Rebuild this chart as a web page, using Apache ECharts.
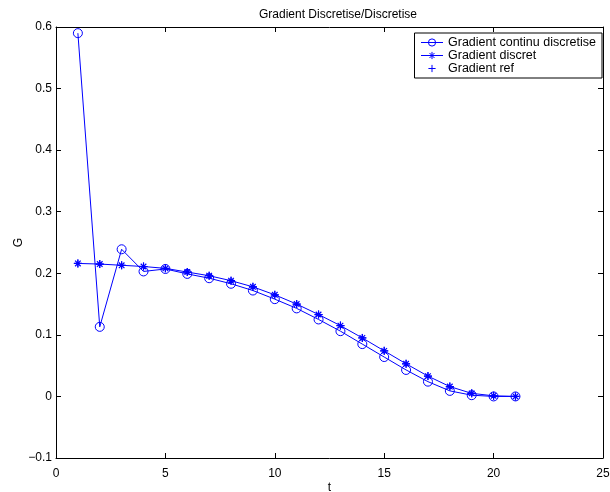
<!DOCTYPE html>
<html>
<head>
<meta charset="utf-8">
<script src="https://cdn.jsdelivr.net/npm/echarts@6/dist/echarts.min.js"></script>
<style>html,body{margin:0;padding:0;background:#fff;}#c{width:610px;height:492px;}</style>
</head>
<body>
<div id="c"></div>
<script>
const t = [1,2,3,4,5,6,7,8,9,10,11,12,13,14,15,16,17,18,19,20,21];
const gContinu = [0.59,0.113,0.239,0.203,0.207,0.199,0.192,0.183,0.172,0.158,0.143,0.125,0.106,0.085,0.064,0.043,0.024,0.009,0.002,0.0,0.0];
const gDiscret = [0.216,0.215,0.213,0.211,0.208,0.202,0.196,0.188,0.178,0.165,0.150,0.133,0.115,0.095,0.074,0.053,0.033,0.016,0.005,0.001,0.0];
const gRef = [0.216,0.215,0.213,0.211,0.208,0.202,0.196,0.188,0.178,0.165,0.150,0.133,0.115,0.095,0.074,0.053,0.033,0.016,0.005,0.001,0.0];
const xTicks = [0,5,10,15,20,25];
const yTicks = [-0.1,0,0.1,0.2,0.3,0.4,0.5,0.6];

const blue = '#0000ff';
const font = 'Liberation Sans, Arial, Helvetica, sans-serif';
const pairs = (ys) => t.map((x,i)=>[x, ys[i]]);
const starPath = 'path://M0,-1L0,1M-1,0L1,0M-0.7,-0.7L0.7,0.7M-0.7,0.7L0.7,-0.7';
const plusPath = 'path://M0,-1L0,1M-1,0L1,0';
const circlePath = 'path://M1,0A1,1,0,1,1,-1,0A1,1,0,1,1,1,0Z';

const chart = echarts.init(document.getElementById('c'), null, {renderer:'canvas'});
const axisCommon = {
  axisLine:{show:true, onZero:false, lineStyle:{color:'#000', width:1}},
  axisTick:{show:true, inside:true, length:5, lineStyle:{color:'#000'}},
  splitLine:{show:false}
};
chart.setOption({
  animation:false,
  backgroundColor:'#fff',
  title:{text:'Gradient Discretise/Discretise', left:333, textAlign:'center', top:4,
    textStyle:{fontFamily:font, fontSize:12, fontWeight:'normal', color:'#000'}},
  grid:{left:56, right:7, top:27, bottom:34, containLabel:false, outerBoundsMode:'none'},
  legend:{
    orient:'vertical', right:8, top:33,
    backgroundColor:'#fff', borderColor:'#000', borderWidth:1, borderRadius:0,
    padding:[3,6,3,6], itemGap:0, itemWidth:22, itemHeight:9,
    lineStyle:{width:1}, itemStyle:{borderWidth:1},
    textStyle:{fontFamily:font, fontSize:12.5, color:'#000'},
    data:['Gradient continu discretise','Gradient discret','Gradient ref']
  },
  xAxis:[
    Object.assign({type:'value', min:0, max:25, interval:5, position:'bottom',
      name:'t', nameLocation:'middle', nameGap:24, nameMoveOverlap:false,
      nameTextStyle:{fontFamily:font, fontSize:12, color:'#000'},
      axisLabel:{fontFamily:font, fontSize:12, color:'#000', margin:10,
        customValues: xTicks}}, axisCommon),
    Object.assign({type:'value', min:0, max:25, interval:5, position:'top',
      axisLabel:{show:false}}, axisCommon)
  ],
  yAxis:[
    Object.assign({type:'value', min:-0.1, max:0.6, interval:0.1, position:'left',
      name:'G', nameLocation:'middle', nameGap:31, nameRotate:90, nameMoveOverlap:false,
      nameTextStyle:{fontFamily:font, fontSize:12, color:'#000'},
      axisLabel:{fontFamily:font, fontSize:12, color:'#000', margin:4,
        formatter:(v)=>{const r=Math.round(v*10)/10; return r===0?'0':(r<0?'\u2212'+String(-r):String(r));}}}, axisCommon),
    Object.assign({type:'value', min:-0.1, max:0.6, interval:0.1, position:'right',
      axisLabel:{show:false}}, axisCommon)
  ],
  series:[
    {name:'Gradient continu discretise', type:'line', data:pairs(gContinu),
      symbol:circlePath, symbolSize:9, showAllSymbol:true,
      lineStyle:{color:blue, width:1}, itemStyle:{color:'rgba(0,0,0,0)', borderColor:blue, borderWidth:1}, z:3},
    {name:'Gradient discret', type:'line', data:pairs(gDiscret),
      symbol:starPath, symbolSize:8, showAllSymbol:true,
      lineStyle:{color:blue, width:1}, itemStyle:{color:'rgba(0,0,0,0)', borderColor:blue, borderWidth:1.2}, z:4},
    {name:'Gradient ref', type:'line', data:pairs(gRef),
      symbol:plusPath, symbolSize:8, showAllSymbol:true,
      lineStyle:{color:blue, width:0, opacity:0}, itemStyle:{color:'rgba(0,0,0,0)', borderColor:blue, borderWidth:1}, z:5}
  ]
});
</script>
</body>
</html>
